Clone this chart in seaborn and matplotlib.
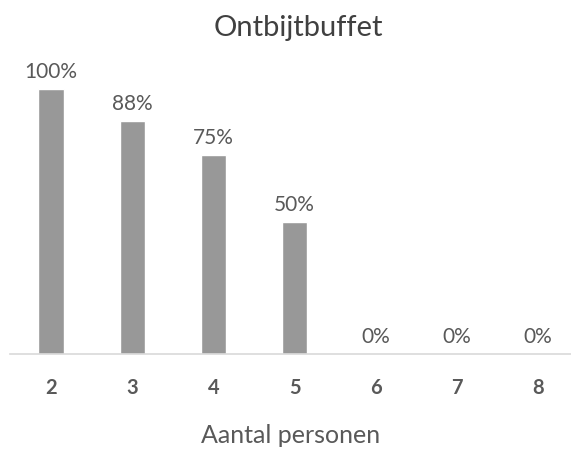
import matplotlib
matplotlib.use("Agg")
import matplotlib.pyplot as plt
import seaborn as sns
import pandas as pd

# Share of breakfast buffet by party size
personen = ["2", "3", "4", "5", "6", "7", "8"]
aandeel = [1.00, 0.88, 0.75, 0.50, 0.0, 0.0, 0.0]

df = pd.DataFrame({"personen": personen, "aandeel": aandeel})

sns.set_theme(style="white")
plt.rcParams["font.family"] = ["Lato", "DejaVu Sans"]

W, H = 571, 451
fig = plt.figure(figsize=(W / 100, H / 100), dpi=100)
fig.patch.set_facecolor("white")

# axes placement in pixels
left_px, bottom_px = 10.4, 451 - 354
plot_h = 265 * 1.1
ax = fig.add_axes([left_px / W, bottom_px / H, (W - left_px) / W, plot_h / H])

sns.barplot(data=df, x="personen", y="aandeel", color="#989898",
            saturation=1, width=0.31, ax=ax)

ax.set_ylim(0, 1.1)
step = 81.2
ax.set_xlim(-0.5, -0.5 + (W - left_px) / step)

labels = [f"{v:.0%}" for v in aandeel]
ax.bar_label(ax.containers[0], labels=labels, padding=5, fontsize=15,
             color="#595959")

for s in ["top", "right", "left"]:
    ax.spines[s].set_visible(False)
ax.spines["bottom"].set_color("#d9d9d9")
ax.spines["bottom"].set_linewidth(1.2)
ax.set_yticks([])
ax.set_ylabel("")
ax.tick_params(axis="x", length=0, pad=17)
for t in ax.get_xticklabels():
    t.set_fontsize(14.5)
    t.set_fontweight("bold")
    t.set_color("#595959")

ax.set_xlabel("Aantal personen", fontsize=18, color="#595959", labelpad=19)
fig.text(298 / W, 1 - 28 / H, "Ontbijtbuffet", ha="center", va="center",
         fontsize=21, color="#404040")

fig.savefig("out.png", dpi=100, facecolor="white")
